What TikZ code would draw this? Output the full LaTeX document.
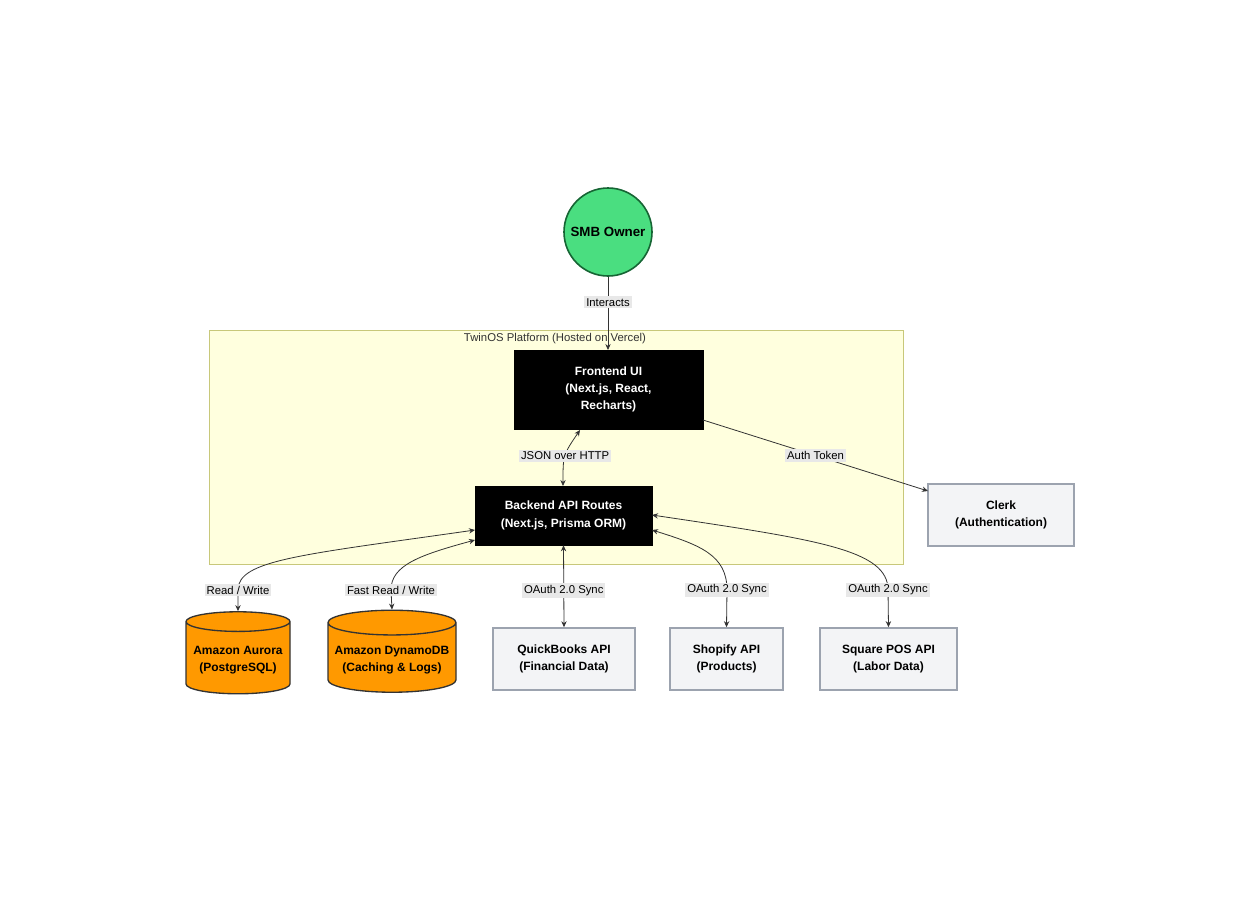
\documentclass[tikz,border=0pt]{standalone}
\usepackage{fontspec}
\setmainfont{Liberation Sans}
\usetikzlibrary{arrows.meta,shapes.geometric}
\definecolor{clfill}{HTML}{FFFFDE}
\definecolor{clline}{HTML}{C8C87A}
\definecolor{green1}{HTML}{4ADE80}
\definecolor{green2}{HTML}{166534}
\definecolor{orng}{HTML}{FF9900}
\definecolor{ext}{HTML}{F3F4F6}
\definecolor{extl}{HTML}{9CA3AF}
\definecolor{lbl}{HTML}{E8E8E8}
\definecolor{edge}{HTML}{333333}
\begin{document}
\begin{tikzpicture}[x=0.75pt,y=-0.75pt,
 blk/.style={draw=black,fill=black,text=white,font=\bfseries\fontsize{9}{13}\selectfont,align=center,minimum height=#1*0.75pt},
 ex/.style={draw=extl,line width=1.2pt,fill=ext,font=\bfseries\fontsize{9}{13}\selectfont,align=center,minimum height=62*0.75pt},
 db/.style={cylinder,shape border rotate=90,aspect=0.2,draw=black!80,line width=1pt,fill=orng,font=\bfseries\fontsize{9}{13}\selectfont,align=center,minimum height=82*0.75pt},
 el/.style={fill=lbl,font=\fontsize{8.5}{10}\selectfont,inner sep=1.5pt},
 con/.style={draw=edge,line width=0.6pt,-{Stealth[length=4.5pt,width=4pt]}},
 bi/.style={con,{Stealth[length=4.5pt,width=4pt]}-{Stealth[length=4.5pt,width=4pt]}}]
\useasboundingbox[fill=white] (0,0) rectangle (1260,900);
\node[draw=clline,fill=clfill,minimum width=694*0.75pt,minimum height=234*0.75pt,anchor=north west] (cl) at (209,330) {};
\node[font=\fontsize{8.5}{10}\selectfont,text=black!80] (clt) at (555,339) {TwinOS Platform (Hosted on Vercel)};
\node[circle,draw=green2,line width=1.2pt,fill=green1,minimum size=88*0.75pt,font=\bfseries\fontsize{10}{12}\selectfont] (smb) at (608,232) {SMB Owner};
\node[blk=79,minimum width=189*0.75pt] (fe) at (608.5,389.5) {Frontend UI\\(Next.js, React,\\Recharts)};
\node[blk=59,minimum width=177*0.75pt] (be) at (563.5,515.5) {Backend API Routes\\(Next.js, Prisma ORM)};
\node[ex,minimum width=146*0.75pt] (clerk) at (1001,515) {Clerk\\(Authentication)};
\node[db,minimum width=104*0.75pt] (aur) at (238,660) {Amazon Aurora\\(PostgreSQL)};
\node[db,minimum width=128*0.75pt] (dyn) at (392,660) {Amazon DynamoDB\\(Caching \& Logs)};
\node[ex,minimum width=142*0.75pt] (qb) at (564,659) {QuickBooks API\\(Financial Data)};
\node[ex,minimum width=113*0.75pt] (sh) at (726.5,659) {Shopify API\\(Products)};
\node[ex,minimum width=137*0.75pt] (sq) at (888.5,659) {Square POS API\\(Labor Data)};
\coordinate (a1) at (608,350);
\draw[con] (smb) -- node[el,pos=0.35]{Interacts} (a1);
\coordinate (f1) at (580,430); \coordinate (b1) at (563,486);
\draw[bi] (f1) .. controls (563,455) .. node[el,pos=0.5]{JSON over HTTP} (b1);
\coordinate (f2) at (703,420); \coordinate (c1) at (928,491);
\draw[con] (f2) -- node[el,pos=0.5]{Auth Token} (c1);
\coordinate (b2) at (475,530); \coordinate (b3) at (475,540);
\coordinate (b4) at (652,530); \coordinate (b5) at (652,515);
\draw[bi] (b2) .. controls (300,555) and (238,560) .. (238,590) node[el]{Read / Write} -- (aur.north);
\draw[bi] (b3) .. controls (420,555) and (391,565) .. (391,590) node[el]{Fast Read / Write} -- (dyn.north);
\draw[bi] (be.south) -- node[el,pos=0.55]{OAuth 2.0 Sync} (qb.north);
\draw[bi] (b4) .. controls (700,545) and (727,555) .. (727,590) node[el]{OAuth 2.0 Sync} -- (sh.north);
\draw[bi] (b5) .. controls (820,540) and (888,550) .. (888,590) node[el]{OAuth 2.0 Sync} -- (sq.north);
\end{tikzpicture}
\end{document}
